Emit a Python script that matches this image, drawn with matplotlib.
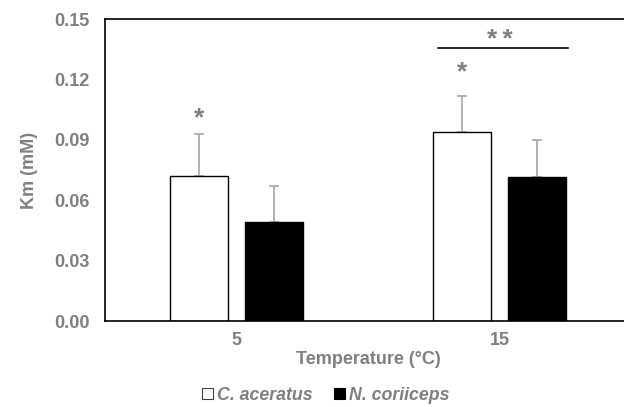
import numpy as np
import matplotlib.pyplot as plt
from matplotlib.patches import Patch

temps = ['5', '15']
species = ['C. aceratus', 'N. coriiceps']
km_aceratus = [0.072, 0.094]
km_coriiceps = [0.049, 0.0715]
err_aceratus = [0.021, 0.018]
err_coriiceps = [0.018, 0.0185]

grey = '#7f7f7f'
plt.rcParams['font.family'] = ['Liberation Sans', 'DejaVu Sans']
plt.rcParams['font.weight'] = 'bold'
plt.rcParams['axes.labelweight'] = 'bold'

fig = plt.figure(figsize=(6.24, 4.07), dpi=100)
ax = fig.add_axes([105/624, 86/407, 526/624, 302/407])

x = np.arange(len(temps))
w = 0.224
off = 0.1426
ax.bar(x - off, km_aceratus, w, color='white', edgecolor='black', linewidth=1.0, zorder=2)
ax.bar(x + off, km_coriiceps, w, color='black', edgecolor='black', linewidth=1.0, zorder=2)
ax.errorbar(x - off, km_aceratus, yerr=[np.zeros(2), err_aceratus], fmt='none',
            ecolor='#a6a6a6', elinewidth=1.2, capsize=3.5, capthick=1.2, zorder=1)
ax.errorbar(x + off, km_coriiceps, yerr=[np.zeros(2), err_coriiceps], fmt='none',
            ecolor='#a6a6a6', elinewidth=1.2, capsize=3.5, capthick=1.2, zorder=1)

# significance marks
star = dict(ha='center', va='center', fontsize=19, color=grey, fontweight='bold')
ax.text(0 - off, km_aceratus[0] + err_aceratus[0] + 0.0075, '*', **star)
ax.text(1 - off, km_aceratus[1] + err_aceratus[1] + 0.0115, '*', **star)
ax.plot([1 - off - w/2 + 0.02, 1 + off + w/2 + 0.007], [0.1355, 0.1355], color='black', lw=1.2)
ax.text(1.003, 0.1395, '*\u2009*', **star)

ax.set_xlim(-0.5, 1.5)
ax.set_ylim(0, 0.15)
ax.set_yticks(np.arange(0, 0.151, 0.03))
ax.set_yticklabels(['%.2f' % v for v in np.arange(0, 0.151, 0.03)])
ax.set_xticks(x)
ax.set_xticklabels(temps)
ax.tick_params(length=0, labelsize=13, labelcolor=grey)
ax.tick_params(axis='y', pad=11)
ax.tick_params(axis='x', pad=8)
for s in ax.spines.values():
    s.set_color('black')
    s.set_linewidth(1.2)
ax.spines['right'].set_visible(False)

ax.set_ylabel('Km (mM)', fontsize=13, color=grey, labelpad=12)
ax.set_xlabel('Temperature (°C)', fontsize=13, color=grey, labelpad=1)

handles = [Patch(facecolor='white', edgecolor='#404040', lw=0.8),
           Patch(facecolor='black', edgecolor='black', lw=0.8)]
fig.legend(handles, species, loc='center', bbox_to_anchor=(326/624, 1 - 395/407), ncol=2,
           frameon=False, prop={'style': 'italic', 'weight': 'bold', 'size': 12.8},
           labelcolor=grey, handlelength=0.6, handleheight=0.6, handletextpad=0.25,
           columnspacing=1.2)

fig.savefig('out.png', dpi=100)
